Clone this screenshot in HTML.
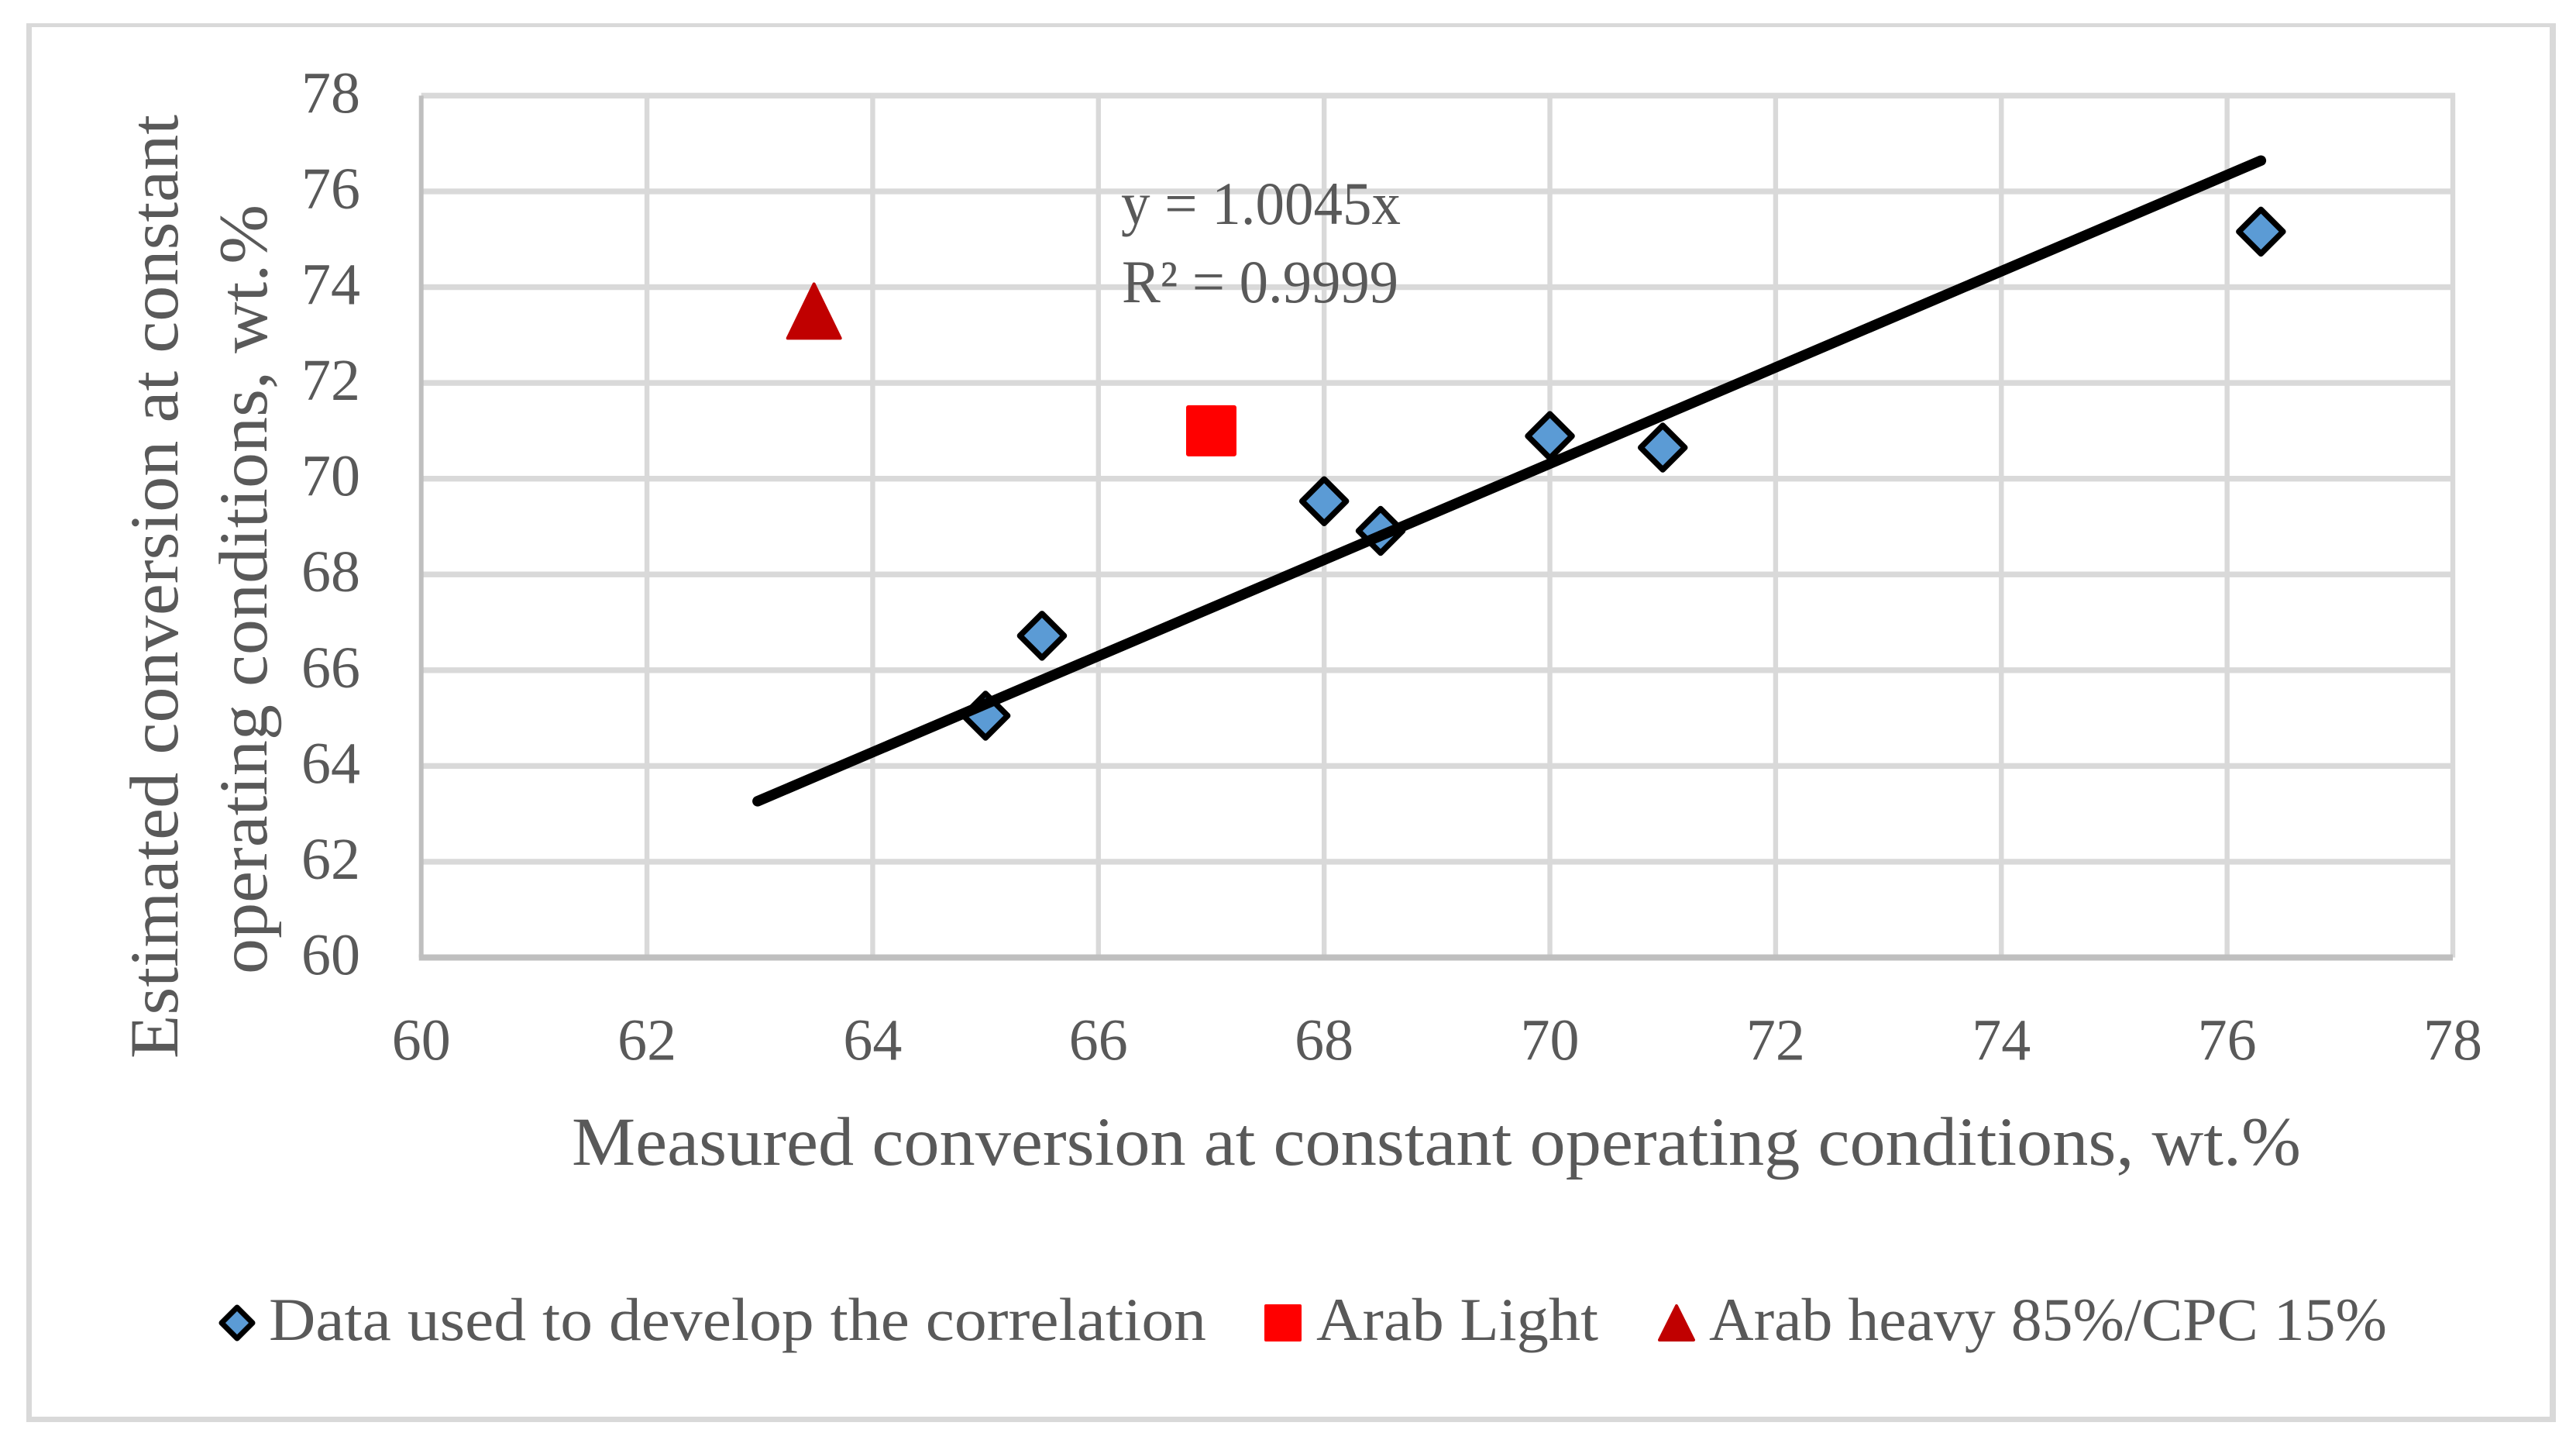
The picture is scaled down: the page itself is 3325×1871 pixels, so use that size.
<!DOCTYPE html>
<html lang="en">
<head>
<meta charset="utf-8">
<title>Estimated vs measured conversion</title>
<style>
html,body{margin:0;padding:0;background:#fff;width:3325px;height:1871px;overflow:hidden}
svg{display:block}
text{font-family:"Liberation Serif",serif;fill:#595959}
</style>
</head>
<body>
<svg id="chart" xmlns="http://www.w3.org/2000/svg" width="3325" height="1871" viewBox="0 0 3325 1871">
  <rect x="0" y="0" width="3325" height="1871" fill="#fff"/>
  <g fill="#d9d9d9">
    <rect x="34" y="30" width="3265" height="5"/>
    <rect x="34" y="1828" width="3265" height="7"/>
    <rect x="34" y="30" width="7" height="1805"/>
    <rect x="3291" y="30" width="8" height="1805"/>
  </g>
  <g id="grid"></g>
  <g id="axes"></g>
  <g id="ticks"></g>
  <g id="marks"></g>

  <text x="1447" y="289" font-size="78" textLength="361" lengthAdjust="spacingAndGlyphs">y = 1.0045x</text>
  <text x="1448" y="390" font-size="78" textLength="357" lengthAdjust="spacingAndGlyphs">R² = 0.9999</text>

  <text x="738" y="1503" font-size="89" textLength="2232" lengthAdjust="spacingAndGlyphs">Measured conversion at constant operating conditions, wt.%</text>
  <text transform="translate(229,1366) rotate(-90)" font-size="89" textLength="1218" lengthAdjust="spacingAndGlyphs">Estimated conversion at constant</text>
  <text transform="translate(344,1257) rotate(-90)" font-size="89" textLength="993" lengthAdjust="spacingAndGlyphs">operating conditions, wt.%</text>

  <g>
    <path d="M306 1687 L326 1707 L306 1727 L286 1707 Z" fill="#5b9bd5" stroke="#000" stroke-width="7" stroke-linejoin="round"/>
    <text x="347" y="1729" font-size="78" textLength="1210" lengthAdjust="spacingAndGlyphs">Data used to develop the correlation</text>
    <rect x="1632" y="1683" width="48" height="48" rx="2" fill="#ff0000"/>
    <text x="1699" y="1729" font-size="78" textLength="364" lengthAdjust="spacingAndGlyphs">Arab Light</text>
    <path d="M2164 1685 L2186 1729 L2142 1729 Z" fill="#c00000" stroke="#c00000" stroke-width="4" stroke-linejoin="round"/>
    <text x="2206" y="1729" font-size="78" textLength="875" lengthAdjust="spacingAndGlyphs">Arab heavy 85%/CPC 15%</text>
  </g>
</svg>
<script>
const xTicks = [60, 62, 64, 66, 68, 70, 72, 74, 76, 78];
const yTicks = [60, 62, 64, 66, 68, 70, 72, 74, 76, 78];
const dataX = [65, 65.5, 68, 68.5, 70, 71, 76.3];
const dataY = [65.05, 66.72, 69.53, 68.91, 70.89, 70.65, 75.16];
const arabLightX = [67];
const arabLightY = [71];
const arabHeavyX = [63.48];
const arabHeavyY = [73.5];
const trendSlope = 1.0045;
const trendRange = [62.98, 76.3];

const NS = 'http://www.w3.org/2000/svg';
const xMin = 60, xMax = 78, yMin = 60, yMax = 78;
const left = 543.7, right = 3166, top_ = 123.4, bottom = 1235.5;
function sx(v) { return left + (v - xMin) / (xMax - xMin) * (right - left); }
function sy(v) { return bottom - (v - yMin) / (yMax - yMin) * (bottom - top_); }
function make(tag, attrs) {
  const el = document.createElementNS(NS, tag);
  for (const k in attrs) el.setAttribute(k, attrs[k]);
  return el;
}
const grid = document.getElementById('grid');
const axes = document.getElementById('axes');
const ticks = document.getElementById('ticks');
const marks = document.getElementById('marks');

yTicks.forEach(function (v) {
  if (v !== yMin) {
    const g = make('rect', { x: left, y: sy(v) - 3.7, width: right - left + 3, height: 7.4, fill: '#d9d9d9' });
    
    
    grid.appendChild(g);
  }
  const t = make('text', { x: 465, y: sy(v) + 22, 'font-size': 76, 'text-anchor': 'end' });
  
  
  t.textContent = v;
  ticks.appendChild(t);
});
xTicks.forEach(function (v) {
  if (v !== xMin) {
    const g = make('rect', { x: sx(v) - 3.2, y: top_ - 3, width: 6.4, height: bottom - top_ + 3, fill: '#d9d9d9' });
    
    
    grid.appendChild(g);
  }
  const t = make('text', { x: sx(v), y: 1367.5, 'font-size': 76, 'text-anchor': 'middle' });
  
  
  t.textContent = v;
  ticks.appendChild(t);
});

const xAxis = make('rect', { x: left - 3, y: bottom - 4, width: right - left + 3, height: 8, fill: '#bfbfbf' });


axes.appendChild(xAxis);
const yAxis = make('rect', { x: left - 3, y: top_, width: 6, height: bottom - top_, fill: '#bfbfbf' });


axes.appendChild(yAxis);

dataX.forEach(function (x, i) {
  const cx = sx(x), cy = sy(dataY[i]), r = 28.5;
  const d = make('path', {
    d: 'M' + cx + ' ' + (cy - r) + ' L' + (cx + r) + ' ' + cy + ' L' + cx + ' ' + (cy + r) + ' L' + (cx - r) + ' ' + cy + ' Z',
    fill: '#5b9bd5', stroke: '#000', 'stroke-width': 7.5, 'stroke-linejoin': 'round'
  });
  
  
  marks.appendChild(d);
});

const trend = make('line', {
  x1: sx(trendRange[0]), y1: sy(trendRange[0] * trendSlope),
  x2: sx(trendRange[1]), y2: sy(trendRange[1] * trendSlope),
  stroke: '#000', 'stroke-width': 13.5, 'stroke-linecap': 'round'
});


marks.appendChild(trend);

arabLightX.forEach(function (x, i) {
  const s = make('rect', { x: sx(x) - 32.5, y: sy(arabLightY[i]) - 33, width: 65, height: 66, rx: 3, fill: '#ff0000' });
  
  
  marks.appendChild(s);
});
arabHeavyX.forEach(function (x, i) {
  const cx = sx(x), cy = sy(arabHeavyY[i]);
  const p = make('path', {
    d: 'M' + cx + ' ' + (cy - 35) + ' L' + (cx + 34) + ' ' + (cy + 35) + ' L' + (cx - 34) + ' ' + (cy + 35) + ' Z',
    fill: '#c00000', stroke: '#c00000', 'stroke-width': 4, 'stroke-linejoin': 'round'
  });
  
  
  marks.appendChild(p);
});
</script>
</body>
</html>
